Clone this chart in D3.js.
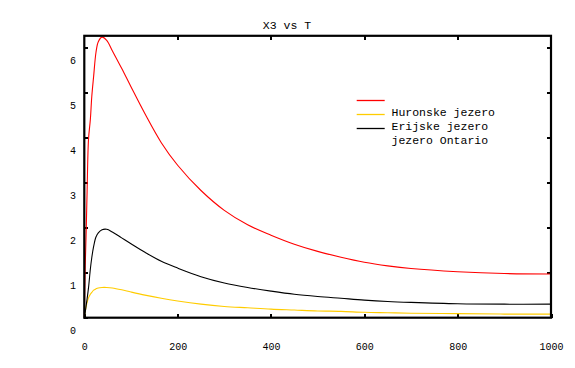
<!DOCTYPE html>
<html>
<head>
<meta charset="utf-8">
<script src="https://cdn.jsdelivr.net/npm/d3@7"></script>
<style>
  body { margin: 0; background: #fff; }
  text { font-family: "Liberation Mono", "DejaVu Sans Mono", monospace; fill: #000; }
</style>
</head>
<body>
<div id="chart"></div>
<script>
// Define SVG area dimensions
var svgWidth = 575;
var svgHeight = 368;

// Chart margins
var chartMargin = { top: 35.8, right: 24, bottom: 50.3, left: 84.3 };

var width = svgWidth - chartMargin.left - chartMargin.right;
var height = svgHeight - chartMargin.top - chartMargin.bottom;

// Data
var timeValues = [0, 2, 4, 6, 9, 13, 16, 20, 25, 30, 38, 48, 60, 80, 100, 130, 165, 200, 250, 300, 350, 400, 450, 500, 550, 600, 650, 700, 800, 900, 1000];
var redValues = [0, 1.15, 1.9, 2.8, 3.95, 4.4, 4.9, 5.35, 5.88, 6.12, 6.22, 6.15, 5.92, 5.53, 5.12, 4.52, 3.88, 3.38, 2.82, 2.38, 2.06, 1.83, 1.63, 1.47, 1.34, 1.23, 1.15, 1.09, 1.02, 0.98, 0.97];
var yellowValues = [0.02, 0.14, 0.25, 0.34, 0.44, 0.52, 0.56, 0.61, 0.64, 0.66, 0.67, 0.67, 0.66, 0.62, 0.57, 0.5, 0.43, 0.37, 0.3, 0.25, 0.22, 0.19, 0.17, 0.15, 0.14, 0.12, 0.11, 0.1, 0.09, 0.08, 0.08];
var blackValues = [0, 0.12, 0.27, 0.42, 0.66, 1.08, 1.33, 1.58, 1.79, 1.88, 1.95, 1.96, 1.9, 1.77, 1.64, 1.45, 1.25, 1.1, 0.91, 0.77, 0.67, 0.59, 0.52, 0.47, 0.43, 0.39, 0.36, 0.34, 0.31, 0.3, 0.3];

var seriesColors = ["#ff0000", "#ffcc00", "#000000"];
var legendLabels = ["Huronske jezero", "Erijske jezero", "jezero Ontario"];
var xTicks = [0, 200, 400, 600, 800, 1000];
var yTicks = [0, 1, 2, 3, 4, 5, 6];

var series = [redValues, yellowValues, blackValues].map(function(vals, i) {
    return { color: seriesColors[i], points: vals.map(function(v, j) { return [timeValues[j], v]; }) };
});

var svg = d3.select("#chart")
    .append("svg")
    .attr("width", svgWidth)
    .attr("height", svgHeight);

var chartGroup = svg.append("g")
    .attr("transform", `translate(${chartMargin.left}, ${chartMargin.top})`);

// Title
svg.append("text")
    .attr("x", 287)
    .attr("y", 29.3)
    .attr("text-anchor", "middle")
    .style("font-size", "11.5px")
    .text("X3 vs T");

// Scales
var xScale = d3.scaleLinear().domain([0, 1000]).range([0, width]);
var yScale = d3.scaleLinear().domain([0, 6.25]).range([height, 0]);

// Axes (ticks point inward, labels pushed down like the original)
var fmt = d3.format("d");
var xAxis = chartGroup.append("g")
    .attr("transform", `translate(0, ${height})`)
    .call(d3.axisBottom(xScale).tickValues(xTicks).tickFormat(fmt).tickSizeInner(-4).tickSizeOuter(0).tickPadding(24.5));
var xAxisTop = chartGroup.append("g")
    .call(d3.axisTop(xScale).tickValues(xTicks.slice(1, -1)).tickSizeInner(-4).tickSizeOuter(0).tickFormat(""));
var yAxis = chartGroup.append("g")
    .call(d3.axisLeft(yScale).tickValues(yTicks).tickFormat(fmt).tickSizeInner(-4).tickSizeOuter(0).tickPadding(8.3));
var yAxisRight = chartGroup.append("g")
    .attr("transform", `translate(${width}, 0)`)
    .call(d3.axisRight(yScale).tickValues(yTicks.slice(1)).tickSizeInner(-4).tickSizeOuter(0).tickFormat(""));

[xAxis, xAxisTop, yAxis, yAxisRight].forEach(function(a) {
    a.select(".domain").remove();
    a.selectAll("line").attr("stroke", "#000").attr("stroke-width", 2).attr("shape-rendering", "crispEdges");
    a.selectAll("text").style("font-size", "10px").attr("font-family", null);
});
xAxis.selectAll("text").attr("dy", "0.8em");
yAxis.selectAll("text").attr("dy", "1.6em");

// Curves
var line = d3.line()
    .x(d => xScale(d[0]))
    .y(d => yScale(d[1]))
    .curve(d3.curveCatmullRom.alpha(0.5));

chartGroup.selectAll(".series")
    .data(series)
    .enter()
    .append("path")
    .attr("class", "series")
    .attr("d", d => line(d.points))
    .attr("fill", "none")
    .attr("stroke", d => d.color)
    .attr("stroke-width", 1.1);

// Frame
chartGroup.append("rect")
    .attr("width", width)
    .attr("height", height)
    .attr("fill", "none")
    .attr("stroke", "#000")
    .attr("stroke-width", 2.2);

// Legend (labels sit one row below their lines, as in the original)
var legendY = d3.range(4).map(i => 100.5 + 14 * i);
var legendGroup = svg.append("g");
seriesColors.forEach(function(c, i) {
    legendGroup.append("line")
        .attr("x1", 356.7).attr("x2", 384.7)
        .attr("y1", legendY[i]).attr("y2", legendY[i])
        .attr("stroke", c)
        .attr("stroke-width", 1.3);
});
legendLabels.forEach(function(t, i) {
    legendGroup.append("text")
        .attr("x", 391.5)
        .attr("y", legendY[i + 1] + 1.8)
        .style("font-size", "11.5px")
        .text(t);
});
</script>
</body>
</html>
